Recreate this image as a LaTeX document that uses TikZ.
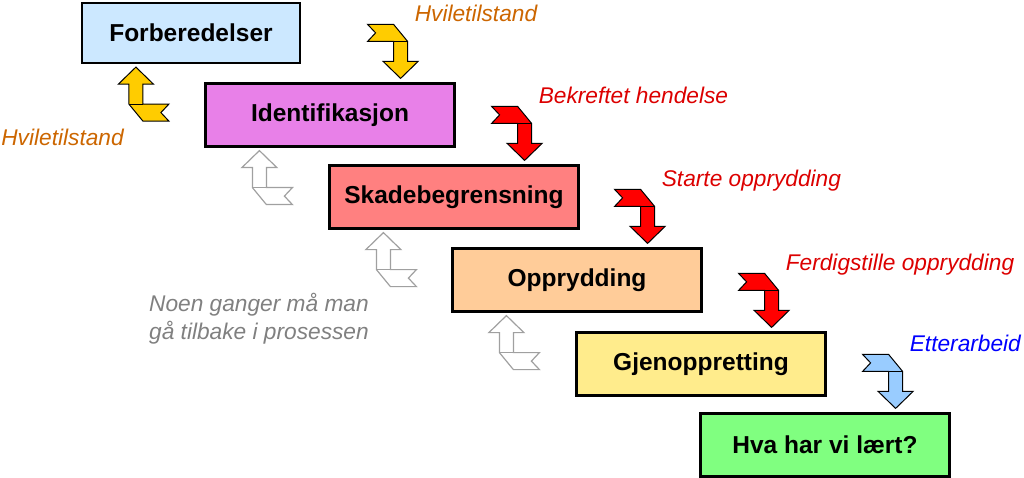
\documentclass[tikz,border=0pt]{standalone}
\usepackage{fontspec}
\setmainfont{Liberation Sans}
\usetikzlibrary{positioning,calc}

\definecolor{forbblue}{RGB}{204,232,255}
\definecolor{identpink}{RGB}{232,128,232}
\definecolor{skadered}{RGB}{255,128,128}
\definecolor{opprorange}{RGB}{255,204,153}
\definecolor{gjenyellow}{RGB}{255,236,140}
\definecolor{hvagreen}{RGB}{128,255,128}
\definecolor{hvilebrown}{RGB}{204,102,0}
\definecolor{arrowyellow}{RGB}{255,204,0}
\definecolor{arrowred}{RGB}{255,0,0}
\definecolor{arrowblue}{RGB}{153,204,255}
\definecolor{textred}{RGB}{220,0,0}
\definecolor{textblue}{RGB}{0,0,255}
\definecolor{notegray}{RGB}{128,128,128}

\tikzset{
  bent/.pic={
    % folded arrow, tip at the origin
    \path[pic actions] (-33,-54) -- (-7,-54) -- (7,-37) -- (7,-17)
      -- (17.5,-17) -- (0,0) -- (-17.5,-17) -- (-7,-17) -- (-7,-37)
      -- (-33,-37) -- (-25,-45.5) -- cycle;
    \path[pic actions] (-7,-37) -- (7,-37);
  }
}

\begin{document}
\begin{tikzpicture}[
      x=1pt, y=-1pt,
      stage/.style={draw=black, line width=2.2pt, minimum width=249pt,
                    minimum height=63pt, inner sep=0pt,
                    font=\fontsize{24.5}{29}\selectfont\bfseries},
      lbl/.style={inner sep=0pt, font=\fontsize{22.7}{28}\selectfont\itshape},
      arr/.style={draw=black, line width=1pt, line join=miter},
      yarrow/.style={arr, fill=arrowyellow},
      rarrow/.style={arr, fill=arrowred},
      barrow/.style={arr, fill=arrowblue},
      garrow/.style={arr, draw=notegray!75, line width=1.2pt, fill=white},
    ]
    \useasboundingbox (0,0) rectangle (1024,478);

    % ── Stages ──────────────────────────────────────────────
    \node[stage, fill=forbblue, minimum width=218pt, minimum height=60pt]
      (forb) at (191,33) {Forberedelser};
    \node[stage, fill=identpink]  (ident) at (330,115) {Identifikasjon};
    \node[stage, fill=skadered]   (skade) at (454,197) {Skadebegrensning};
    \node[stage, fill=opprorange] (oppr)  at (577,280) {Opprydding};
    \node[stage, fill=gjenyellow] (gjen)  at (701,364) {Gjenoppretting};
    \node[stage, fill=hvagreen]   (hva)   at (825,445) {Hva har vi lært?};

    % ── Forward arrows ──────────────────────────────────────
    \coordinate (d1) at ([xshift=-55pt,yshift=4pt]ident.north east);
    \coordinate (d2) at ([xshift=-55pt,yshift=4pt]skade.north east);
    \coordinate (d3) at ([xshift=-55pt,yshift=4pt]oppr.north east);
    \coordinate (d4) at ([xshift=-55pt,yshift=4pt]gjen.north east);
    \coordinate (d5) at ([xshift=-55pt,yshift=4pt]hva.north east);
    \pic[yarrow] at (d1) {bent};
    \pic[rarrow] at (d2) {bent};
    \pic[rarrow] at (d3) {bent};
    \pic[rarrow] at (d4) {bent};
    \pic[barrow] at (d5) {bent};

    % ── Backward arrows ─────────────────────────────────────
    \coordinate (u0) at ([xshift=55pt,yshift=-3pt]forb.south west);
    \coordinate (u1) at ([xshift=55pt,yshift=-3pt]ident.south west);
    \coordinate (u2) at ([xshift=55pt,yshift=-3pt]skade.south west);
    \coordinate (u3) at ([xshift=55pt,yshift=-3pt]oppr.south west);
    \pic[yarrow, rotate=180] at (u0) {bent};
    \pic[garrow, rotate=180] at (u1) {bent};
    \pic[garrow, rotate=180] at (u2) {bent};
    \pic[garrow, rotate=180] at (u3) {bent};

    % ── Labels ──────────────────────────────────────────────
    \node[lbl, text=hvilebrown, anchor=base west] (hvile1)
      at ([xshift=14pt,yshift=57pt]d1) {Hviletilstand};
    \node[lbl, text=textred, anchor=base west] (bekr)
      at ([xshift=14pt,yshift=57pt]d2) {Bekreftet hendelse};
    \node[lbl, text=textred, anchor=base west] (start)
      at ([xshift=14pt,yshift=57pt]d3) {Starte opprydding};
    \node[lbl, text=textred, anchor=base west] (ferdig)
      at ([xshift=14pt,yshift=57pt]d4) {Ferdigstille opprydding};
    \node[lbl, text=textblue, anchor=base west] (etter)
      at ([xshift=14pt,yshift=57pt]d5) {Etterarbeid};
    \node[lbl, text=hvilebrown, anchor=base east] (hvile0)
      at ([xshift=-12pt,yshift=-78pt]u0) {Hviletilstand};
    \node[lbl, text=notegray, align=left, anchor=north west] (tilbake)
      at (149,293) {Noen ganger må man\\gå tilbake i prosessen};
  \end{tikzpicture}
\end{document}
